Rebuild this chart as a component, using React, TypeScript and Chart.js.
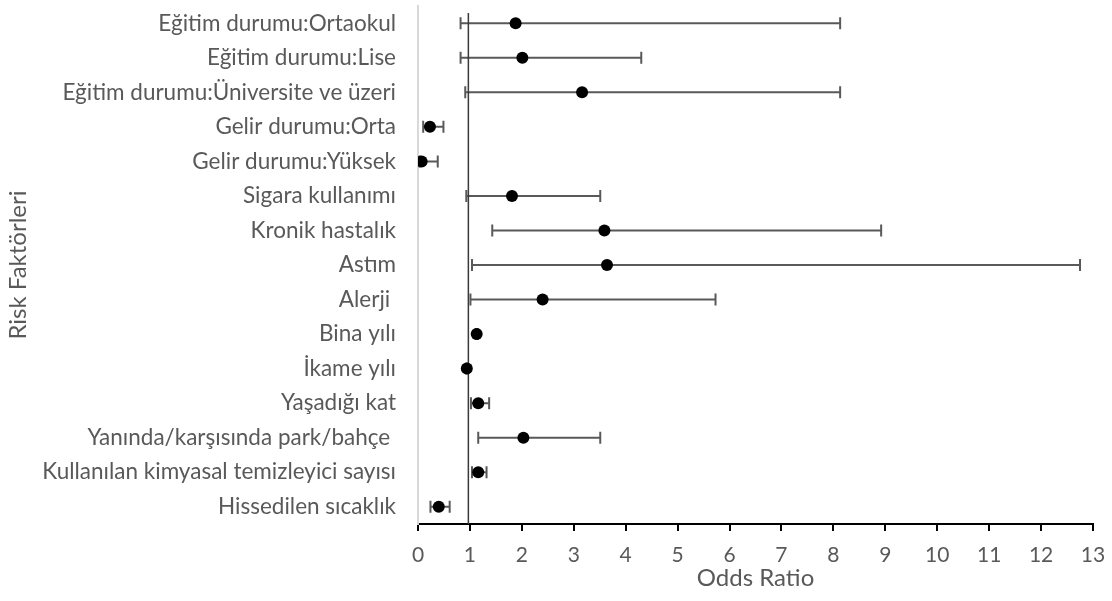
import React, { useEffect, useRef } from "react";
import { Chart, registerables } from "chart.js";

Chart.register(...registerables);

// Risk factors, top to bottom
const categories = [
  "Eğitim durumu:Ortaokul",
  "Eğitim durumu:Lise",
  "Eğitim durumu:Üniversite ve üzeri",
  "Gelir durumu:Orta",
  "Gelir durumu:Yüksek",
  "Sigara kullanımı",
  "Kronik hastalık",
  "Astım",
  "Alerji ",
  "Bina yılı",
  "İkame yılı",
  "Yaşadığı kat",
  "Yanında/karşısında park/bahçe ",
  "Kullanılan kimyasal temizleyici sayısı",
  "Hissedilen sıcaklık",
];

// Odds ratio point estimates
const oddsRatio = [1.88, 2.01, 3.16, 0.23, 0.07, 1.81, 3.59, 3.64, 2.4, 1.13, 0.94, 1.16, 2.03, 1.16, 0.4];

// 95% confidence interval bounds
const ciLower = [0.82, 0.82, 0.91, 0.1, 0.03, 0.93, 1.43, 1.04, 1.01, 1.11, 0.93, 1.02, 1.16, 1.04, 0.24];
const ciUpper = [8.13, 4.3, 8.13, 0.49, 0.38, 3.51, 8.92, 12.75, 5.73, 1.15, 0.96, 1.37, 3.51, 1.32, 0.61];

// x-axis ticks
const xTicks = [0, 1, 2, 3, 4, 5, 6, 7, 8, 9, 10, 11, 12, 13];

// No-effect reference (OR = 1)
const referenceOR = 0.97;

const FONT = "Lato, 'Open Sans', sans-serif";
const TEXT = "#595959";

const errorBarPlugin = {
  id: "errorBars",
  beforeDatasetsDraw(chart: any) {
    const { ctx, scales } = chart;
    const xs = scales.x;
    const ys = scales.y;
    ctx.save();
    ctx.strokeStyle = "#595959";
    ctx.lineWidth = 2;
    for (let i = 0; i < categories.length; i++) {
      const y = ys.getPixelForValue(i);
      const x1 = xs.getPixelForValue(ciLower[i]);
      const x2 = xs.getPixelForValue(ciUpper[i]);
      ctx.beginPath();
      ctx.moveTo(x1, y);
      ctx.lineTo(x2, y);
      ctx.moveTo(x1, y - 6);
      ctx.lineTo(x1, y + 6);
      ctx.moveTo(x2, y - 6);
      ctx.lineTo(x2, y + 6);
      ctx.stroke();
    }
    ctx.restore();
  },
};

export default function App() {
  const ref = useRef<HTMLCanvasElement | null>(null);

  useEffect(() => {
    document.body.style.margin = "0";
    const canvas = ref.current;
    if (!canvas) return;
    const chart = new Chart(canvas, {
      type: "scatter",
      data: {
        datasets: [
          {
            label: "OR",
            data: oddsRatio.map((v, i) => ({ x: v, y: i })),
            backgroundColor: "#000",
            borderColor: "#000",
            pointRadius: 6,
            pointBorderWidth: 0,
            order: 1,
          },
          {
            type: "line",
            label: "ref",
            data: [
              { x: referenceOR, y: -0.3 },
              { x: referenceOR, y: 14.5 },
            ],
            borderColor: "#3a3a3a",
            borderWidth: 1.5,
            pointRadius: 0,
            order: 2,
          } as any,
        ],
      },
      options: {
        animation: false,
        responsive: false,
        maintainAspectRatio: false,
        layout: { padding: { top: 0, right: 19, bottom: 0, left: 0 } },
        plugins: {
          legend: { display: false },
          tooltip: { enabled: false },
        },
        scales: {
          x: {
            type: "linear",
            min: 0,
            max: 13,
            afterBuildTicks: (s: any) => {
              s.ticks = xTicks.map((v) => ({ value: v }));
            },
            afterFit: (s: any) => {
              s.height = 77;
              s.paddingLeft = 0;
              s.paddingRight = 0;
            },
            border: { display: true, color: "#000", width: 2 },
            grid: {
              drawOnChartArea: false,
              drawTicks: true,
              tickLength: 7,
              color: "#000",
              lineWidth: 2,
            },
            ticks: {
              color: TEXT,
              font: { family: FONT, size: 21 },
              padding: 12,
              maxRotation: 0,
            },
            title: {
              display: true,
              text: "Odds Ratio",
              color: TEXT,
              font: { family: FONT, size: 24 },
              padding: { top: 0, bottom: 8 },
            },
          },
          y: {
            type: "linear",
            min: -0.5,
            max: 14.5,
            reverse: true,
            afterBuildTicks: (s: any) => {
              s.ticks = categories.map((_, i) => ({ value: i }));
            },
            afterFit: (s: any) => {
              s.width = 418;
              s.paddingTop = 0;
              s.paddingBottom = 0;
            },
            border: { display: true, color: "#d9d9d9", width: 2 },
            grid: { display: false, drawTicks: false },
            ticks: {
              color: TEXT,
              font: { family: FONT, size: 22.5 },
              padding: 22,
              autoSkip: false,
              callback: (v: any) => categories[v as number],
            },
            title: {
              display: true,
              text: "Risk Faktörleri",
              color: TEXT,
              font: { family: FONT, size: 24 },
              padding: { top: 4, bottom: 0 },
            },
          },
        },
      },
      plugins: [errorBarPlugin],
    });
    return () => chart.destroy();
  }, []);

  return (
    <div style={{ position: "relative", width: 1112, height: 601, background: "#fff" }}>
      <canvas ref={ref} width={1112} height={601} style={{ display: "block" }} />
    </div>
  );
}
